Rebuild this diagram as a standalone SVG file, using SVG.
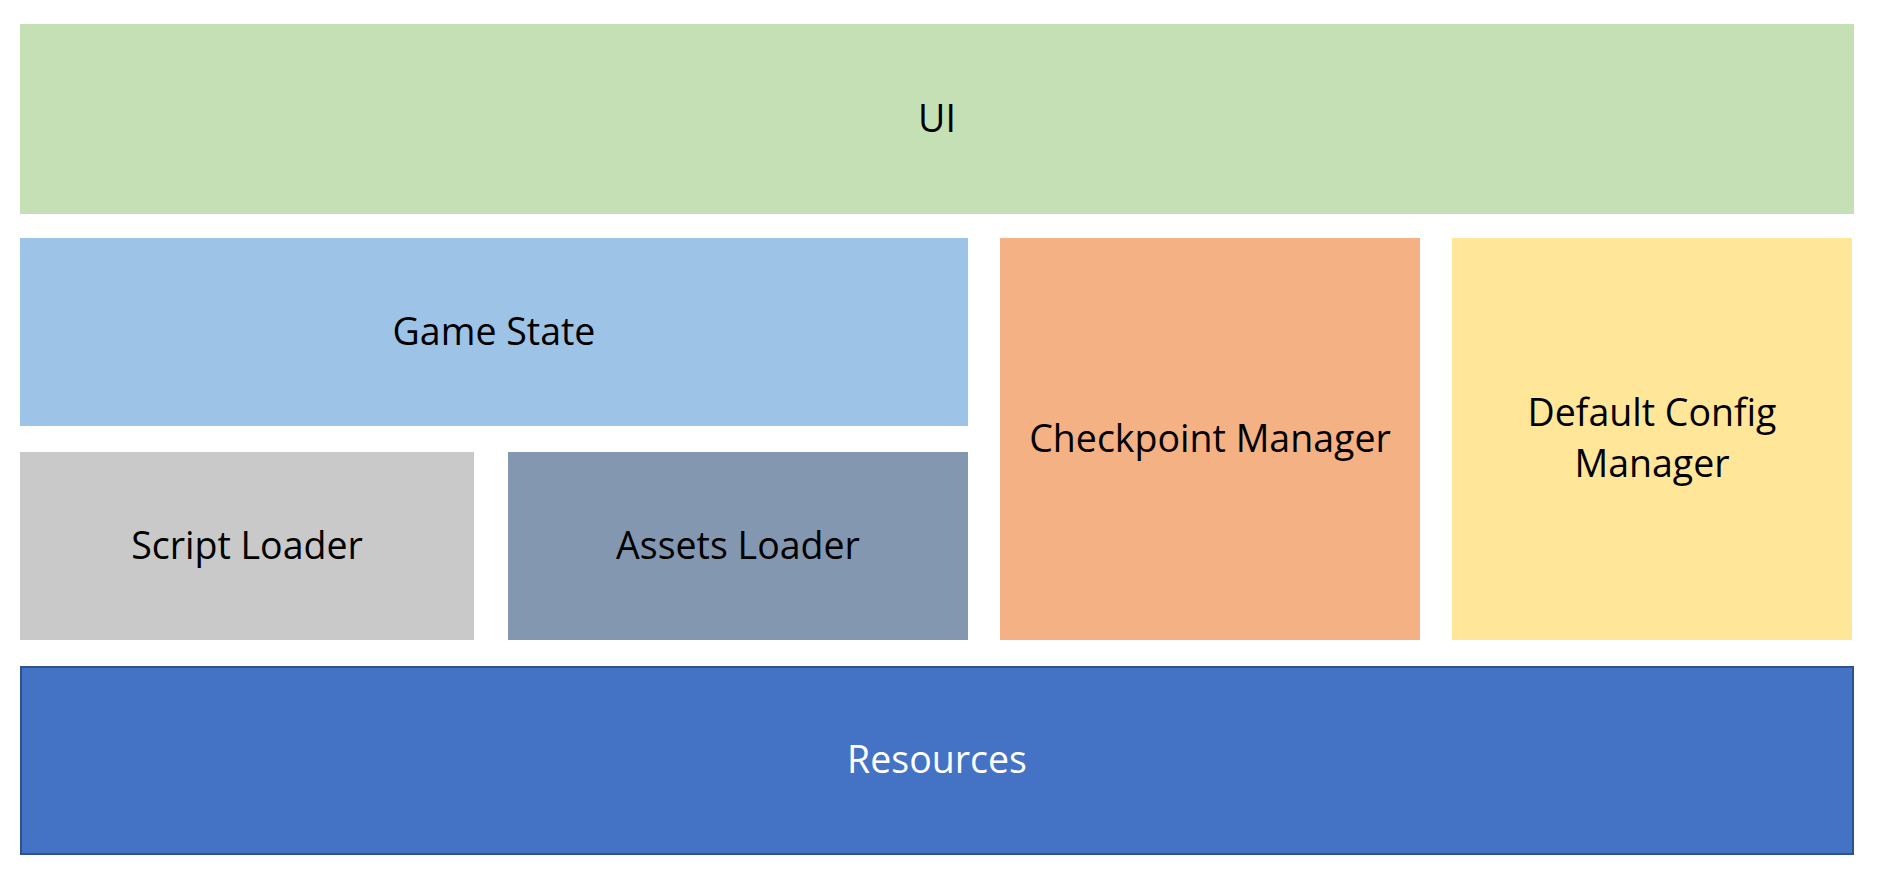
<svg xmlns="http://www.w3.org/2000/svg" width="1878" height="882" viewBox="0 0 1878 882">
<style>
.lbl{font-family:"Open Sans","Liberation Sans",sans-serif;font-size:37.5px;fill:#000;text-anchor:middle}
.w{fill:#fff}
</style>
<rect width="1878" height="882" fill="#fff"/>
<g id="ui"><rect x="20" y="24" width="1834" height="190" fill="#C5E0B4"/><text class="lbl" x="937" y="132">UI</text></g>
<g id="game-state"><rect x="20" y="238" width="948" height="188" fill="#9DC3E6"/><text class="lbl" x="494" y="345">Game State</text></g>
<g id="script-loader"><rect x="20" y="452" width="454" height="188" fill="#C9C9C9"/><text class="lbl" x="247" y="559">Script Loader</text></g>
<g id="assets-loader"><rect x="508" y="452" width="460" height="188" fill="#8497B0"/><text class="lbl" x="738" y="559">Assets Loader</text></g>
<g id="checkpoint-manager"><rect x="1000" y="238" width="420" height="402" fill="#F4B183"/><text class="lbl" x="1210" y="452">Checkpoint Manager</text></g>
<g id="default-config-manager"><rect x="1452" y="238" width="400" height="402" fill="#FFE699"/><text class="lbl" x="1652" y="426">Default Config</text><text class="lbl" x="1652" y="477">Manager</text></g>
<g id="resources"><rect x="21" y="667" width="1832" height="187" fill="#4472C4" stroke="#2F528F" stroke-width="2"/><text class="lbl w" x="937" y="773">Resources</text></g>
<g id="connectors"/>
</svg>
